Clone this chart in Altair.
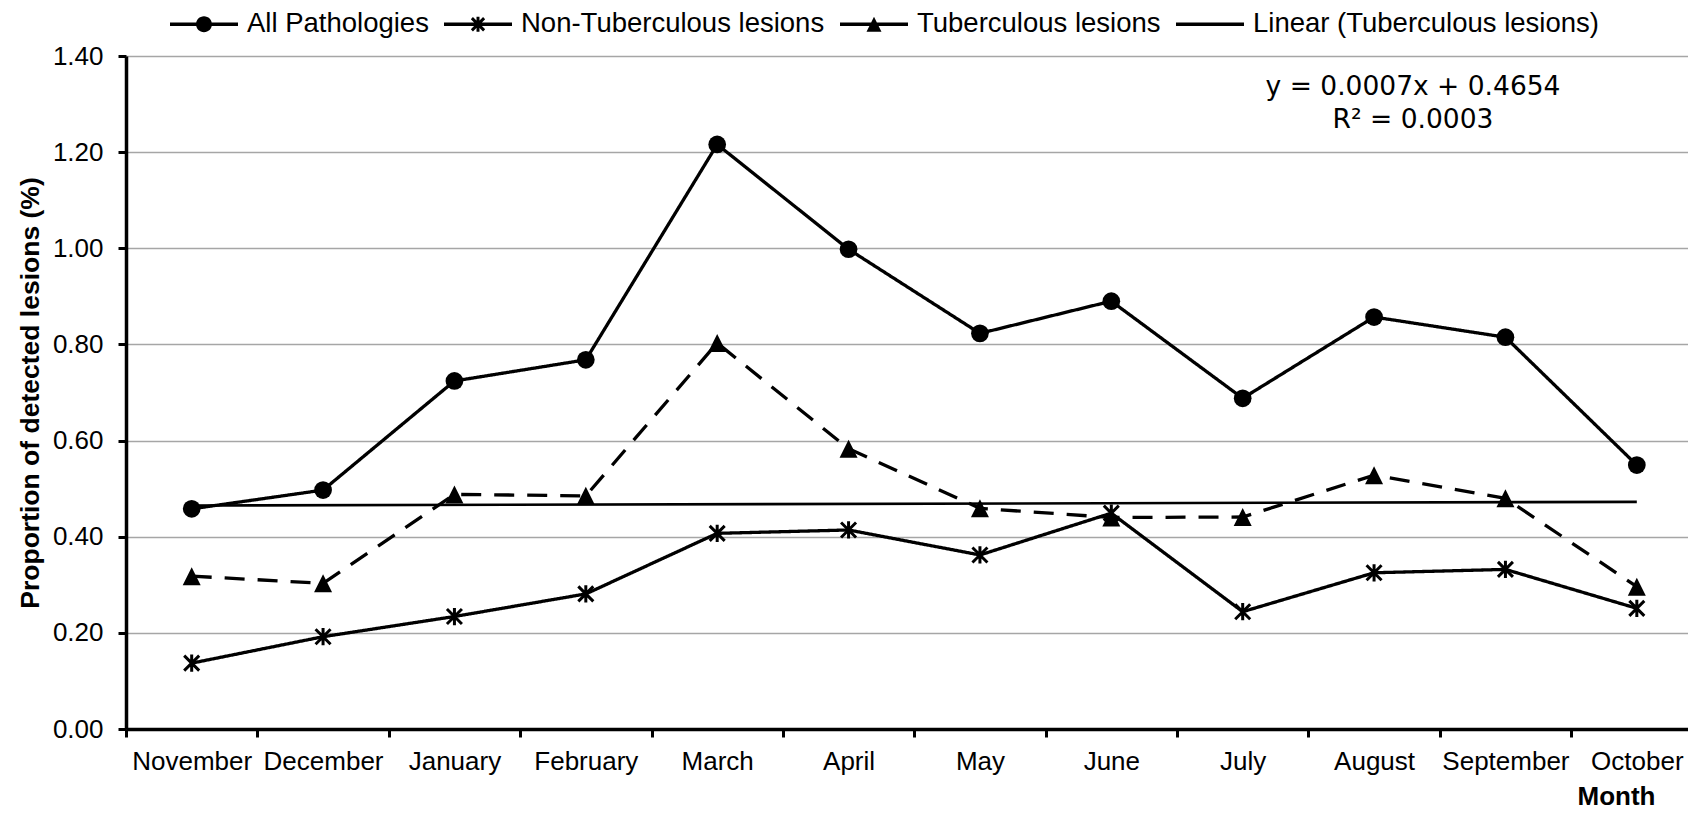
import altair as alt
import pandas as pd

# ---------------- data ----------------
months = ["November", "December", "January", "February", "March", "April",
          "May", "June", "July", "August", "September", "October"]

all_pathologies = [0.458, 0.497, 0.724, 0.768, 1.216, 0.998,
                   0.823, 0.890, 0.688, 0.857, 0.815, 0.549]
non_tuberculous = [0.137, 0.192, 0.234, 0.281, 0.407, 0.414,
                   0.362, 0.449, 0.244, 0.325, 0.332, 0.251]
tuberculous = [0.318, 0.303, 0.488, 0.485, 0.803, 0.583,
               0.459, 0.440, 0.441, 0.528, 0.480, 0.296]

series_names = ["All Pathologies", "Non-Tuberculous lesions", "Tuberculous lesions"]
trend_name = "Linear (Tuberculous lesions)"
legend_names = series_names + [trend_name]

y_ticks = [0.0, 0.2, 0.4, 0.6, 0.8, 1.0, 1.2, 1.4]
equation_lines = ["y = 0.0007x + 0.4654", "R² = 0.0003"]

# ---------------- tables ----------------
rows = []
for name, vals in zip(series_names, [all_pathologies, non_tuberculous, tuberculous]):
    for i, (m, v) in enumerate(zip(months, vals)):
        rows.append({"month": m, "idx": i + 1, "series": name, "value": v})
df = pd.DataFrame(rows)

legend_df = pd.DataFrame({"name": legend_names})

# ---------------- styles ----------------
FONT = "Liberation Sans"
BLACK = "black"

# legend symbols: filled outlines only (line segment + marker), unit box -1..1
bar = "M-1,-0.05L1,-0.05L1,0.05L-1,0.05Z"
circle_leg = bar + "M-0.235,0A0.235,0.235 0 1,1 0.235,0A0.235,0.235 0 1,1 -0.235,0Z"
star_leg = (bar
            + "M-0.044,-0.22L0.044,-0.22L0.044,0.22L-0.044,0.22Z"
            + "M-0.149,-0.211L0.211,0.149L0.149,0.211L-0.211,-0.149Z"
            + "M-0.211,0.149L0.149,-0.211L0.211,-0.149L-0.149,0.211Z")
tri_leg = bar + "M0,-0.22L0.22,0.22L-0.22,0.22Z"
line_leg = bar
legend_paths = [circle_leg, star_leg, tri_leg, line_leg]

star_path = "M-1,-1L1,1M-1,1L1,-1M0,-1.15L0,1.15"
tri_path = "M0,-1L1,1L-1,1Z"

PLOT_W = 1562      # drawn area that fits the window
PLOT_H = 673
X_RANGE = 1576.5   # 12 month bands; the last edge runs off the page as in the reference

x_enc = alt.X(
    "month:O",
    scale=alt.Scale(type="band", domain=months, paddingInner=0, paddingOuter=0,
                    range=[0, X_RANGE]),
    axis=alt.Axis(
        title="Month", tickBand="extent", labelAngle=0, labelOverlap=False,
        labelFont=FONT, labelFontSize=26, labelColor=BLACK, labelPadding=11,
        domainColor=BLACK, domainWidth=3.5, tickColor=BLACK, tickWidth=3, tickSize=8,
        grid=False,
        titleFont=FONT, titleFontSize=26, titleFontWeight="bold", titleColor=BLACK,
        titleX=1490, titleY=67, titleAlign="center", titleBaseline="middle",
    ),
)
y_enc = alt.Y(
    "value:Q",
    scale=alt.Scale(domain=[0, 1.4], nice=False, zero=True),
    axis=alt.Axis(
        title="Proportion of detected lesions (%)", values=y_ticks, format=".2f",
        labelFont=FONT, labelFontSize=26, labelColor=BLACK, labelPadding=15,
        domainColor=BLACK, domainWidth=3.5, tickColor=BLACK, tickWidth=3, tickSize=8,
        grid=True, gridColor="#a6a6a6", gridWidth=1.5,
        titleFont=FONT, titleFontSize=26.5, titleFontWeight="bold", titleColor=BLACK,
        titleX=-96, titleY=336.5, titleAngle=270, titleAlign="center", titleBaseline="middle",
    ),
)

base = alt.Chart(df)

lines = base.mark_line(color=BLACK, strokeWidth=3.3).encode(
    x=x_enc, y=y_enc,
    detail="series:N",
    strokeDash=alt.StrokeDash(
        "series:N",
        scale=alt.Scale(domain=series_names, range=[[1, 0], [1, 0], [20, 13]]),
        legend=None,
    ),
)

month_expr = "[" + ",".join("'%s'" % m for m in months) + "][datum.idx - 1]"
trend = (
    base.transform_filter(alt.datum.series == "Tuberculous lesions")
    .transform_regression("idx", "value")
    .transform_calculate(month=month_expr)
    .mark_line(color=BLACK, strokeWidth=2.6)
    .encode(x=x_enc, y=y_enc)
)

pts_all = base.transform_filter(alt.datum.series == series_names[0]).mark_point(
    shape="circle", filled=True, size=314, color=BLACK, opacity=1
).encode(x=x_enc, y=y_enc)

pts_non = base.transform_filter(alt.datum.series == series_names[1]).mark_point(
    shape=star_path, filled=False, size=225, color=BLACK, strokeWidth=3, opacity=1
).encode(x=x_enc, y=y_enc)

pts_tub = base.transform_filter(alt.datum.series == series_names[2]).mark_point(
    shape=tri_path, filled=True, size=324, color=BLACK, opacity=1
).encode(x=x_enc, y=y_enc)

equation = alt.Chart(pd.DataFrame({"k": [0]})).mark_text(
    font="DejaVu Sans", fontSize=26.5, color=BLACK, align="center", baseline="middle",
    lineHeight=33.3,
).encode(
    x=alt.value(1287),
    y=alt.value(30.7),
    text=alt.value(equation_lines),
)

legend_layer = alt.Chart(legend_df).mark_point(
    filled=True, opacity=0, size=4624, color=BLACK
).encode(
    shape=alt.Shape(
        "name:N",
        scale=alt.Scale(domain=legend_names, range=legend_paths),
        legend=alt.Legend(
            title=None, orient="none", legendX=44, legendY=-66,
            direction="horizontal", columns=4,
            labelFont=FONT, labelFontSize=27.5, labelColor=BLACK, labelLimit=1000,
            labelOffset=9, columnPadding=15, rowPadding=0, padding=0,
            symbolSize=4624, symbolStrokeWidth=0, symbolFillColor=BLACK,
            symbolOpacity=1,
        ),
    )
)

chart = (
    alt.layer(lines, trend, pts_all, pts_non, pts_tub, equation, legend_layer)
    .properties(
        width=PLOT_W, height=PLOT_H,
        autosize=alt.AutoSizeParams(type="none"),
        padding={"left": 118, "top": 48, "right": 0, "bottom": 83},
        background="white",
    )
    .configure_view(stroke=None)
)

chart.save("out.html", embed_options={"renderer": "svg", "actions": False})
